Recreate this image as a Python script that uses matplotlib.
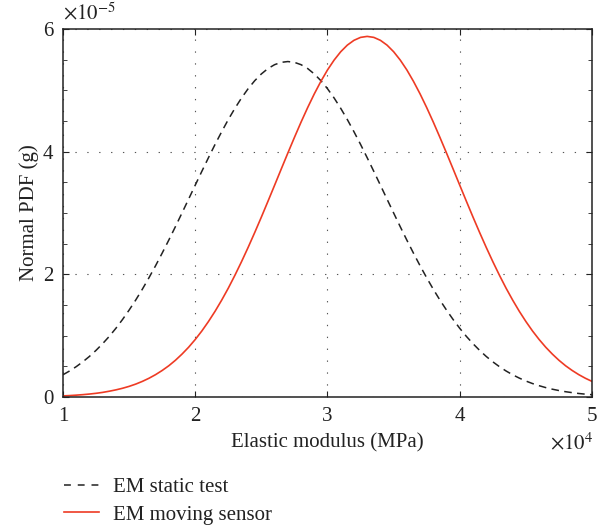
import matplotlib
matplotlib.use("Agg")
import matplotlib.pyplot as plt
from matplotlib.lines import Line2D
from matplotlib.ticker import MultipleLocator

plt.rcParams["font.family"] = ["Liberation Serif", "DejaVu Serif"]
plt.rcParams["mathtext.fontset"] = "stix"

# elastic modulus in units of 1e4 MPa
modulus = [1.00, 1.05, 1.10, 1.15, 1.20, 1.25, 1.30, 1.35, 1.40, 1.45,
           1.50, 1.55, 1.60, 1.65, 1.70, 1.75, 1.80, 1.85, 1.90, 1.95,
           2.00, 2.05, 2.10, 2.15, 2.20, 2.25, 2.30, 2.35, 2.40, 2.45,
           2.50, 2.55, 2.60, 2.65, 2.70, 2.75, 2.80, 2.85, 2.90, 2.95,
           3.00, 3.05, 3.10, 3.15, 3.20, 3.25, 3.30, 3.35, 3.40, 3.45,
           3.50, 3.55, 3.60, 3.65, 3.70, 3.75, 3.80, 3.85, 3.90, 3.95,
           4.00, 4.05, 4.10, 4.15, 4.20, 4.25, 4.30, 4.35, 4.40, 4.45,
           4.50, 4.55, 4.60, 4.65, 4.70, 4.75, 4.80, 4.85, 4.90, 4.95, 5.00]

# normal PDF in units of 1e-5
pdf_static = [0.363, 0.425, 0.495, 0.574, 0.662, 0.761, 0.870, 0.989, 1.120, 1.263,
              1.417, 1.581, 1.757, 1.944, 2.140, 2.346, 2.558, 2.777, 3.001, 3.227,
              3.454, 3.680, 3.902, 4.119, 4.326, 4.524, 4.707, 4.876, 5.027, 5.158,
              5.268, 5.356, 5.419, 5.457, 5.470, 5.457, 5.419, 5.356, 5.268, 5.158,
              5.027, 4.876, 4.707, 4.524, 4.326, 4.119, 3.902, 3.680, 3.454, 3.227,
              3.001, 2.777, 2.558, 2.346, 2.140, 1.944, 1.757, 1.581, 1.417, 1.263,
              1.120, 0.989, 0.870, 0.761, 0.662, 0.574, 0.495, 0.425, 0.363, 0.309,
              0.261, 0.220, 0.185, 0.154, 0.128, 0.106, 0.087, 0.072, 0.058, 0.047, 0.038]

pdf_moving = [0.019, 0.024, 0.031, 0.039, 0.049, 0.061, 0.076, 0.095, 0.117, 0.143,
              0.174, 0.211, 0.255, 0.306, 0.365, 0.433, 0.510, 0.599, 0.700, 0.812,
              0.938, 1.077, 1.231, 1.398, 1.580, 1.775, 1.985, 2.207, 2.440, 2.683,
              2.934, 3.192, 3.453, 3.716, 3.977, 4.233, 4.482, 4.719, 4.942, 5.147,
              5.333, 5.494, 5.630, 5.738, 5.816, 5.864, 5.880, 5.864, 5.816, 5.738,
              5.630, 5.494, 5.333, 5.147, 4.942, 4.719, 4.482, 4.233, 3.977, 3.716,
              3.453, 3.192, 2.934, 2.683, 2.440, 2.207, 1.985, 1.775, 1.580, 1.398,
              1.231, 1.077, 0.938, 0.812, 0.700, 0.599, 0.510, 0.433, 0.365, 0.306, 0.255]

labels = ["EM static test", "EM moving sensor"]

red = "#ee3b24"
dark = "#222222"
fs = 15

fig = plt.figure(figsize=(6.11, 5.28), dpi=100)
ax = fig.add_axes([0.103, 0.248, 0.866, 0.697])

ax.plot(modulus, pdf_static, color=dark, lw=1.1, dashes=(5.0, 3.5))
ax.plot(modulus, pdf_moving, color=red, lw=1.2)

ax.set_xlim(1, 5)
ax.set_ylim(0, 6)
ax.set_xticks([1, 2, 3, 4, 5])
ax.set_yticks([0, 2, 4, 6])
ax.yaxis.set_minor_locator(MultipleLocator(0.5))

ax.grid(True, which="major", color="#555555", lw=0.8, linestyle=(0, (1.2, 9.5)))
ax.tick_params(which="both", direction="in", top=True, right=True,
               labelsize=fs, colors=dark)
ax.tick_params(axis="x", pad=7)
ax.tick_params(axis="y", pad=7)
ax.tick_params(which="major", length=4)
ax.tick_params(which="minor", length=3)
for s in ax.spines.values():
    s.set_color(dark)
    s.set_linewidth(1.1)

ax.set_xlabel("Elastic modulus (MPa)", fontsize=fs, color=dark)
ax.xaxis.label.set_va("center")
ax.xaxis.set_label_coords(0.5, -0.125)
ax.set_ylabel("Normal PDF (g)", fontsize=fs, color=dark)
ax.yaxis.label.set_va("center")
ax.yaxis.set_label_coords(-0.063, 0.5)

ax.text(0.0, 1.043, r"$\times10^{-5}$", transform=ax.transAxes,
        fontsize=fs, color=dark, ha="left", va="center")
ax.text(1.003, -0.125, r"$\times10^{4}$", transform=ax.transAxes,
        fontsize=fs, color=dark, ha="right", va="center")

handles = [Line2D([], [], color=dark, lw=1.1, dashes=(4.5, 4.5)),
           Line2D([], [], color=red, lw=1.2)]
fig.legend(handles, labels, loc="upper left", bbox_to_anchor=(0.105, 0.096),
           frameon=False, fontsize=fs, handlelength=1.68, handletextpad=0.67,
           labelspacing=0.39, borderaxespad=0, borderpad=0, labelcolor=dark)

fig.savefig("out.png", dpi=100)
